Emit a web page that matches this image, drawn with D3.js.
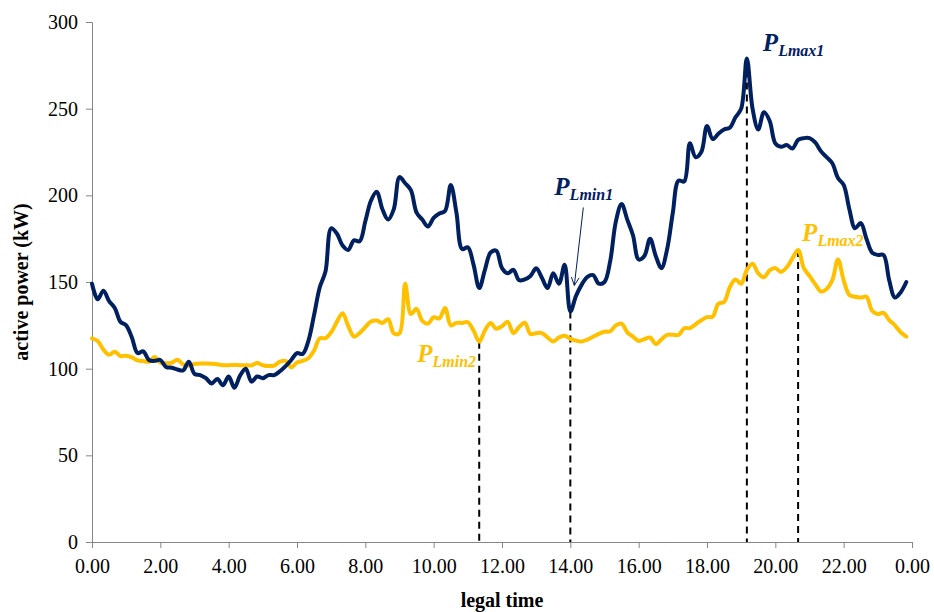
<!DOCTYPE html>
<html>
<head>
<meta charset="utf-8">
<script src="https://cdn.jsdelivr.net/npm/d3@7/dist/d3.min.js"></script>
<style>
  html, body { margin: 0; padding: 0; background: #fff; }
  svg { display: block; font-family: "Liberation Serif", "Times New Roman", serif; }
</style>
</head>
<body>
<svg id="chart" width="934" height="612"></svg>
<script>
// Daily active power profiles, sampled every 10 minutes from 0:00 to 23:50
const stepMinutes = 10;

// Load 1 (dark blue), kW
const load1 = [
  149, 140, 145, 139, 135, 127, 125, 118, 109, 110,
  105, 104.5, 105, 101, 100.5, 99.5, 99, 104, 97, 96.3,
  94.5, 91.5, 94, 90.5, 95.5, 89, 96, 100, 92.5, 95.5,
  94.5, 96.3, 96.3, 98.5, 101.5, 105, 109, 108.5, 116, 131,
  147, 156, 181, 178, 171, 168.5, 174, 173.5, 185, 197,
  202, 192, 186, 192, 210.5, 207, 203, 190, 186, 182,
  187, 189.5, 191, 206, 190, 169, 170, 160, 146.5, 157,
  167, 168, 158, 155, 157, 151, 151.5, 153.5, 157.9, 152.5,
  146.5, 155, 149, 160, 133, 142, 148.5, 153, 154, 149,
  150, 162, 185, 195, 186, 177, 163, 165, 175, 165,
  158, 169, 190, 208.5, 208, 230, 222, 225, 240, 232.5,
  235.5, 238, 239, 245, 250, 279, 250, 238, 248, 243,
  230, 228, 229, 227, 232, 233, 233, 230.5, 225.5, 222,
  218.5, 210, 206, 192, 181, 184, 175, 167, 165.6, 165.6,
  151, 141, 144, 150
];

// Load 2 (gold), kW
const load2 = [
  117.5, 116, 111, 108, 109.8, 107.3, 107.5, 106.5, 104.8, 104.4,
  104, 106.8, 103.5, 103.1, 103.4, 105.2, 102.5, 101.8, 102.7, 103,
  103, 102.8, 102.5, 102, 102, 102.1, 102, 102, 101.9, 103.2,
  102, 101.5, 101.8, 104, 104.5, 100.8, 103.5, 104.5, 106, 110.5,
  117.5, 117.6, 121, 127, 132, 124.5, 118.5, 120.6, 124, 127.2,
  127.8, 126.4, 128.5, 120.4, 120.4, 149, 131.5, 134.5, 127.6, 126,
  129.7, 129, 135, 125, 126.4, 126.4, 126.8, 122, 115.6, 122,
  126.3, 123, 124.5, 127, 120.5, 124, 126.5, 120, 120.5, 120.5,
  118, 115.7, 118, 119, 117.2, 116.2, 115.7, 116.8, 118.4, 120.1,
  121.3, 121.6, 125, 126, 121, 118.5, 116, 117, 118, 114.2,
  116.9, 119.5, 119.5, 119.5, 123.3, 123.4, 125.6, 127.9, 129.7, 130,
  137.5, 138.5, 147, 151.5, 149, 157, 160.5, 155, 152.7, 156.7,
  158, 155.8, 158.5, 163.6, 168.5, 158, 153.5, 148.8, 144.5, 146,
  151, 163, 151, 142.5, 141.5, 141, 141.5, 133.4, 131.5, 132.2,
  128, 125, 121, 118.5
];

// Axis ticks
const xTickHours = [0, 2, 4, 6, 8, 10, 12, 14, 16, 18, 20, 22, 24];
const xTickLabels = ["0.00", "2.00", "4.00", "6.00", "8.00", "10.00", "12.00",
                     "14.00", "16.00", "18.00", "20.00", "22.00", "0.00"];
const yTicks = [0, 50, 100, 150, 200, 250, 300];

// Marked extreme points: sample index and series
const markers = [
  { name: "Lmin2", series: "load2", index: 68 },
  { name: "Lmin1", series: "load1", index: 84 },
  { name: "Lmax1", series: "load1", index: 115 },
  { name: "Lmax2", series: "load2", index: 124 }
];

const colors = { load1: "#002060", load2: "#ffc000" };
const seriesData = { load1, load2 };
const serif = "'Liberation Serif', 'Times New Roman', serif";

const svg = d3.select("#chart");
const margin = { left: 92, right: 22, top: 22, bottom: 70 };
const W = 934, H = 612;

const x = d3.scaleLinear().domain([0, 24]).range([margin.left, W - margin.right]);
const y = d3.scaleLinear().domain([0, 300]).range([H - margin.bottom, margin.top]);

const hourOf = i => i * stepMinutes / 60;

// Axes
const xAxis = d3.axisBottom(x)
  .tickValues(xTickHours)
  .tickFormat((d, i) => xTickLabels[i])
  .tickSize(6).tickPadding(11);
const yAxis = d3.axisLeft(y)
  .tickValues(yTicks)
  .tickFormat(d3.format("d"))
  .tickSize(6).tickPadding(8);

const gx = svg.append("g").attr("transform", `translate(0,${y(0)})`).call(xAxis);
const gy = svg.append("g").attr("transform", `translate(${x(0)},0)`).call(yAxis);
[gx, gy].forEach(g => {
  g.attr("font-family", serif).attr("font-size", 20);
  g.select(".domain").attr("stroke", "#868686").attr("stroke-width", 1);
  g.selectAll(".tick line").attr("stroke", "#868686");
  g.selectAll(".tick text").attr("fill", "#000")
    .attr("font-family", serif).style("font-family", serif).style("font-size", "20px");
});

// Axis titles
svg.append("text")
  .attr("x", (x(0) + x(24)) / 2).attr("y", 607)
  .attr("text-anchor", "middle")
  .style("font-family", serif)
  .style("font-size", "20px").style("font-weight", "bold")
  .text("legal time");
svg.append("text")
  .attr("transform", `translate(28,${(y(0) + y(300)) / 2}) rotate(-90)`)
  .attr("text-anchor", "middle")
  .style("font-family", serif)
  .style("font-size", "20px").style("font-weight", "bold")
  .text("active power (kW)");

// Dashed drop lines from the marked points to the time axis
markers.forEach(m => {
  const v = seriesData[m.series][m.index];
  svg.append("line")
    .attr("x1", x(hourOf(m.index))).attr("x2", x(hourOf(m.index)))
    .attr("y1", y(v)).attr("y2", y(0))
    .attr("stroke", "#000").attr("stroke-width", 2)
    .attr("stroke-dasharray", "7,5");
});

// Load curves
const line = d3.line()
  .x((d, i) => x(hourOf(i)))
  .y(d => y(d))
  .curve(d3.curveCatmullRom.alpha(0.5));

["load2", "load1"].forEach(key => {
  svg.append("path")
    .datum(seriesData[key])
    .attr("fill", "none")
    .attr("stroke", colors[key])
    .attr("stroke-width", 4)
    .attr("stroke-linejoin", "round")
    .attr("stroke-linecap", "round")
    .attr("d", line);
});

// Point labels: P with subscript
function pLabel(px, py, sub, color) {
  const t = svg.append("text")
    .attr("x", px).attr("y", py)
    .attr("fill", color)
    .style("font-family", serif)
    .style("font-style", "italic").style("font-weight", "bold");
  t.append("tspan").style("font-size", "25px").text("P");
  t.append("tspan").attr("dy", 5).style("font-size", "16px").text(sub);
  return t;
}

const mk = Object.fromEntries(markers.map(m => [m.name, m]));
const pt = m => [x(hourOf(m.index)), y(seriesData[m.series][m.index])];

{ const [px, py] = pt(mk.Lmax1); pLabel(px + 16, py - 7, "Lmax1", colors.load1); }
{ const [px, py] = pt(mk.Lmax2); pLabel(px + 4, py - 9, "Lmax2", colors.load2); }
{ const [px, py] = pt(mk.Lmin2); pLabel(px - 62, py + 20, "Lmin2", colors.load2); }
{
  const [px, py] = pt(mk.Lmin1);
  pLabel(px - 16, py - 116, "Lmin1", colors.load1);
  // Leader arrow pointing at the minimum
  const x1 = px + 13, y1 = py - 104, x2 = px + 4, y2 = py - 26;
  svg.append("line").attr("x1", x1).attr("y1", y1).attr("x2", x2).attr("y2", y2)
    .attr("stroke", colors.load1).attr("stroke-width", 1);
  const ang = Math.atan2(y2 - y1, x2 - x1);
  const len = 9, spread = 0.45;
  const head = [
    [x2 - len * Math.cos(ang - spread), y2 - len * Math.sin(ang - spread)],
    [x2, y2],
    [x2 - len * Math.cos(ang + spread), y2 - len * Math.sin(ang + spread)]
  ];
  svg.append("path").attr("d", d3.line()(head))
    .attr("fill", "none").attr("stroke", colors.load1).attr("stroke-width", 1);
}
</script>
</body>
</html>
